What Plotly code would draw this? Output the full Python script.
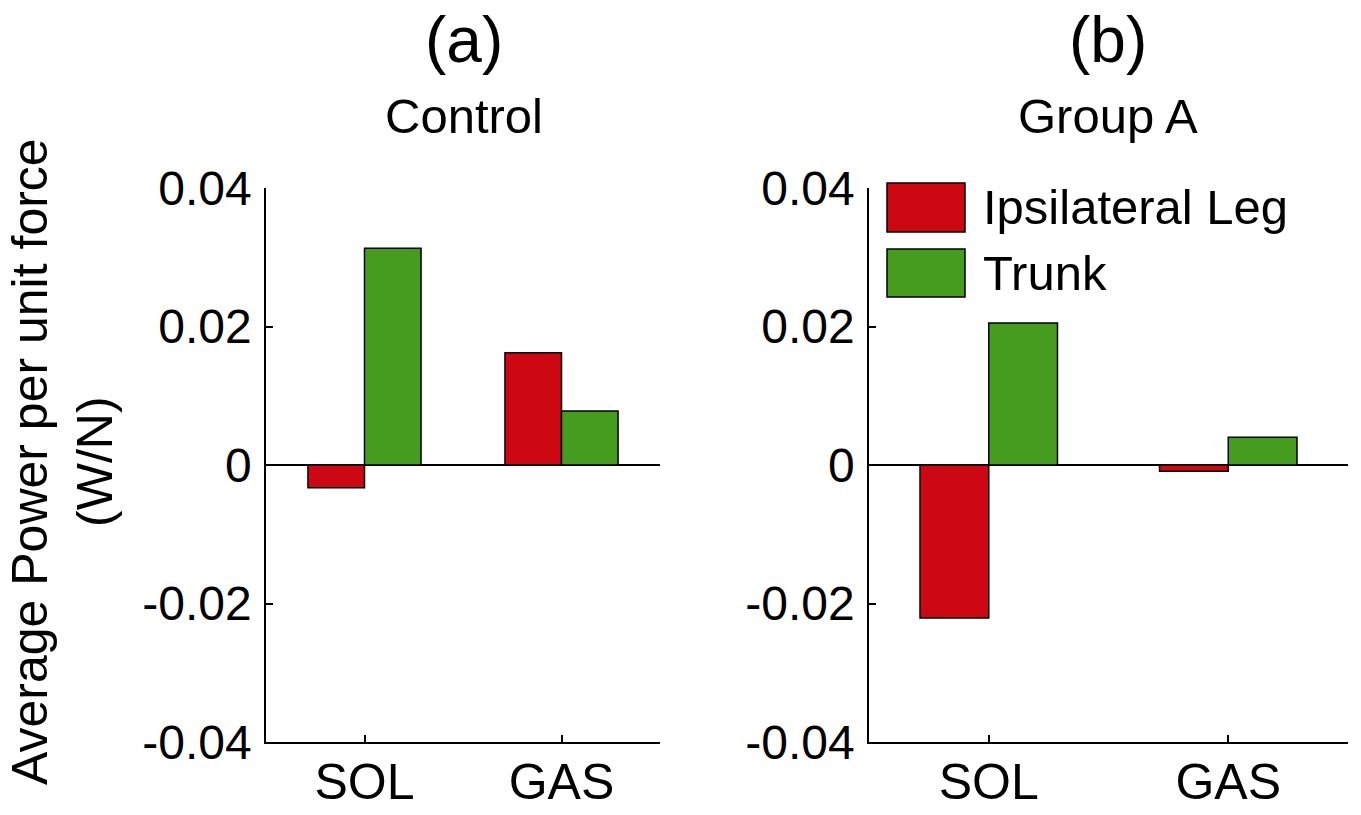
import plotly.graph_objects as go

W, H = 1361, 815

categories = ["SOL", "GAS"]
series_names = ["Ipsilateral Leg", "Trunk"]
series_colors = ["#cd0813", "#469c1e"]

control_ipsi = [-0.0033, 0.0162]
control_trunk = [0.0313, 0.0078]
groupA_ipsi = [-0.0221, -0.0009]
groupA_trunk = [0.0205, 0.0040]

panel_letters = ["(a)", "(b)"]
panel_titles = ["Control", "Group A"]
y_ticks = [-0.04, -0.02, 0, 0.02, 0.04]
y_ticktext = ["-0.04", "-0.02", "0", "0.02", "0.04"]
y_title = "Average Power per unit force<br>(W/N)"

FONT = "Liberation Sans, Arial, Helvetica, sans-serif"

def px_x(p):
    return p / W

def px_y(p):
    return 1 - p / H

fig = go.Figure()

panels = [
    ("x", "y", [control_ipsi, control_trunk]),
    ("x2", "y2", [groupA_ipsi, groupA_trunk]),
]
for xa, ya, data in panels:
    for name, color, vals in zip(series_names, series_colors, data):
        fig.add_trace(go.Bar(
            x=categories, y=vals, name=name, xaxis=xa, yaxis=ya,
            marker=dict(color=color, line=dict(color="black", width=1.5)),
            showlegend=False,
        ))

ydom = [px_y(742), px_y(188)]
common_x = dict(
    type="category", range=[-0.5, 1.5], showline=True, linecolor="black", linewidth=1.5,
    ticks="inside", ticklen=7, tickwidth=1.5, tickcolor="black",
    tickfont=dict(family=FONT, size=50, color="black"), showgrid=False, zeroline=False,
    ticklabelstandoff=-5, fixedrange=True, automargin=False,
)
common_y = dict(
    range=[-0.04, 0.04], tickvals=y_ticks, ticktext=y_ticktext,
    showline=True, linecolor="black", linewidth=1.5,
    ticks="inside", ticklen=7, tickwidth=1.5, tickcolor="black",
    tickfont=dict(family=FONT, size=48, color="black"), showgrid=False,
    zeroline=True, zerolinecolor="black", zerolinewidth=1.5,
    ticklabelstandoff=3, fixedrange=True, automargin=False,
)

fig.update_layout(
    width=W, height=H,
    margin=dict(l=0, r=0, t=0, b=0, autoexpand=False),
    paper_bgcolor="white", plot_bgcolor="white",
    barmode="group", bargap=0.426, bargroupgap=0,
    xaxis=dict(domain=[px_x(266), px_x(660)], anchor="y", **common_x),
    yaxis=dict(domain=ydom, anchor="x", **common_y),
    xaxis2=dict(domain=[px_x(869), px_x(1348)], anchor="y2", **common_x),
    yaxis2=dict(domain=ydom, anchor="x2", **common_y),
    font=dict(family=FONT, color="black"),
)

annotations = []
centers = [464, 1108]
for cx, letter, title in zip(centers, panel_letters, panel_titles):
    annotations.append(dict(x=px_x(cx), y=px_y(40), xref="paper", yref="paper",
                            text=letter, showarrow=False, xanchor="center", yanchor="middle",
                            font=dict(family=FONT, size=64, color="black")))
    annotations.append(dict(x=px_x(cx), y=px_y(116), xref="paper", yref="paper",
                            text=title, showarrow=False, xanchor="center", yanchor="middle",
                            font=dict(family=FONT, size=49, color="black")))

annotations.append(dict(x=px_x(63), y=px_y(462), xref="paper", yref="paper",
                        text=y_title, textangle=-90, showarrow=False,
                        xanchor="center", yanchor="middle",
                        font=dict(family=FONT, size=50, color="black")))

# custom legend
shapes = []
legend_rows = [(183, 232), (249, 297)]
for (top, bot), name, color in zip(legend_rows, series_names, series_colors):
    shapes.append(dict(type="rect", xref="paper", yref="paper",
                       x0=px_x(887), x1=px_x(965), y0=px_y(bot), y1=px_y(top),
                       fillcolor=color, line=dict(color="black", width=1.5)))
    annotations.append(dict(x=px_x(981), y=px_y((top + bot) / 2), xref="paper", yref="paper",
                            text=name, showarrow=False, xanchor="left", yanchor="middle",
                            font=dict(family=FONT, size=49, color="black")))

fig.update_layout(annotations=annotations, shapes=shapes)

fig.write_html("out.html")
